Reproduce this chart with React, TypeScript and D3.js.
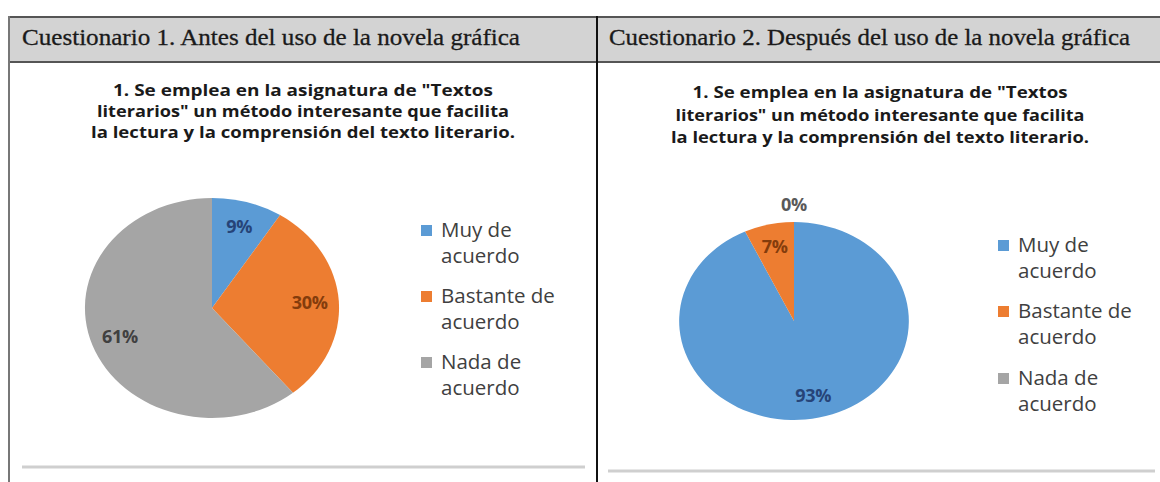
import React from "react";
import * as d3 from "d3";

const categories = ["Muy de acuerdo", "Bastante de acuerdo", "Nada de acuerdo"];
const legendLines = [["Muy de", "acuerdo"], ["Bastante de", "acuerdo"], ["Nada de", "acuerdo"]];
const colors = ["#5b9bd5", "#ed7d31", "#a5a5a5"];
const labelColors = ["#264478", "#843c0c", "#404040"];
const before = [9, 30, 61];
const after = [93, 7, 0];
const headers = [
  "Cuestionario 1. Antes del uso de la novela gráfica",
  "Cuestionario 2. Después del uso de la novela gráfica",
];
const subtitle = [
  "1. Se emplea en la asignatura de \"Textos",
  "literarios\" un método interesante que facilita",
  "la lectura y la comprensión del texto literario.",
];

type PanelCfg = {
  values: number[];
  cx: number; cy: number; r: number; sx: number;
  titleX: number; titleY: number[]; titleW: number[];
  legX: number; legY: number[];
};

const panels: PanelCfg[] = [
  {
    values: before, cx: 212, cy: 308, r: 110, sx: 1.155,
    titleX: 303, titleY: [96, 117, 138], titleW: [380, 412, 424],
    legX: 421, legY: [237, 303, 369],
  },
  {
    values: after, cx: 794, cy: 321, r: 99, sx: 1.16,
    titleX: 880, titleY: [98, 121, 143], titleW: [375, 409, 418],
    legX: 998, legY: [252, 318, 385],
  },
];

function Pie({ p }: { p: PanelCfg }) {
  const pie = d3.pie<number>().sort(null).value((d) => d);
  const arcs = pie(p.values);
  const arc = d3.arc<d3.PieArcDatum<number>>().innerRadius(0).outerRadius(p.r);
  return (
    <g>
      <g transform={`translate(${p.cx},${p.cy}) scale(${p.sx},1)`}>
        {arcs.map((a, i) => (
          <path key={i} d={arc(a) || ""} fill={colors[i]} />
        ))}
      </g>
      {arcs.map((a, i) => {
        const mid = (a.startAngle + a.endAngle) / 2;
        const rr = a.value === 0 ? p.r * 1.17 : p.r * 0.77;
        const x = p.cx + Math.sin(mid) * rr * p.sx;
        const y = p.cy - Math.cos(mid) * rr;
        return (
          <text key={i} x={x} y={y} dy="0.35em" textAnchor="middle"
            fontFamily="'Open Sans', sans-serif" fontWeight="bold" fontSize={18}
            letterSpacing={-0.3}
            fill={a.value === 0 ? "#595959" : labelColors[i]}>
            {a.value}%
          </text>
        );
      })}
      {subtitle.map((s, i) => (
        <text key={i} x={p.titleX} y={p.titleY[i]} textAnchor="middle"
          fontFamily="'Open Sans', sans-serif" fontWeight="bold" fontSize={16.5}
          fill="#1a1a1a" textLength={p.titleW[i]} lengthAdjust="spacingAndGlyphs">
          {s}
        </text>
      ))}
      {categories.map((c, i) => (
        <g key={c}>
          <rect x={p.legX} y={p.legY[i] - 12} width={11} height={11} fill={colors[i]} />
          {legendLines[i].map((l, j) => (
            <text key={j} x={p.legX + 20} y={p.legY[i] + j * 26}
              fontFamily="'Open Sans', sans-serif" fontSize={20.5} fill="#404040">
              {l}
            </text>
          ))}
        </g>
      ))}
    </g>
  );
}

export default function App() {
  const W = 1160, H = 482;
  return (
    <svg width={W} height={H} style={{ position: "absolute", left: 0, top: 0, background: "#fff" }}>
      <rect x={0} y={0} width={W} height={H} fill="#fff" />
      {/* header band */}
      <rect x={9} y={17} width={W - 9} height={45} fill="#d3d3d3" />
      <line x1={9} x2={W} y1={17} y2={17} stroke="#555" strokeWidth={2} />
      <line x1={9} x2={W} y1={62} y2={62} stroke="#555" strokeWidth={2} />
      <line x1={9} x2={9} y1={16} y2={H} stroke="#777" strokeWidth={2} />
      <line x1={597} x2={597} y1={16} y2={H} stroke="#111" strokeWidth={2} />
      <text x={22} y={45} fontFamily="'Liberation Serif', serif" fontSize={24} fill="#1a1a1a"
        stroke="#1a1a1a" strokeWidth={0.3}
        textLength={498} lengthAdjust="spacingAndGlyphs">{headers[0]}</text>
      <text x={609} y={45} fontFamily="'Liberation Serif', serif" fontSize={24} fill="#1a1a1a"
        stroke="#1a1a1a" strokeWidth={0.3}
        textLength={521} lengthAdjust="spacingAndGlyphs">{headers[1]}</text>
      {panels.map((p, i) => <Pie key={i} p={p} />)}
      <line x1={22} x2={585} y1={467} y2={467} stroke="#cfcfcf" strokeWidth={3} />
      <line x1={608} x2={1155} y1={471} y2={471} stroke="#cfcfcf" strokeWidth={3} />
    </svg>
  );
}
